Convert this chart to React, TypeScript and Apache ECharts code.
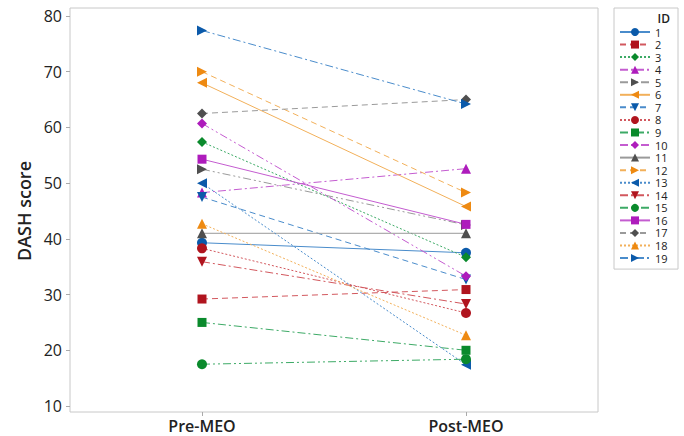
import React, { useEffect, useRef } from "react";
import * as echarts from "echarts";

const categories = ["Pre-MEO", "Post-MEO"];
const ids = ["1","2","3","4","5","6","7","8","9","10","11","12","13","14","15","16","17","18","19"];
const preValues = [39.3, 29.2, 57.4, 48.3, 52.5, 68.0, 47.5, 38.3, 25.0, 60.7, 41.0, 70.0, 50.0, 35.9, 17.5, 54.3, 62.5, 42.7, 77.4];
const postValues = [37.5, 30.9, 36.7, 52.6, 42.5, 45.8, 32.7, 26.7, 20.0, 33.3, 41.0, 48.3, 17.4, 28.3, 18.4, 42.6, 65.0, 22.7, 64.2];
const yTicks = [10, 80, 10]; // min, max, interval

const markerColors = ["#0B5AAA", "#B0141E", "#0A8A2C", "#AE1CBC", "#4F4F4F", "#EE8A12"];
const lineColors = ["#4A8CCB", "#D2585E", "#3DAA66", "#C45CD0", "#9A9A9A", "#F2B05A"];
const dashes: any[] = ["solid", [6, 4], [2, 2], [8, 3, 2, 3], [8, 3, 2, 3, 2, 3]];
const symbols = [
  "circle",
  "rect",
  "diamond",
  "triangle",
  "path://M0,0L10,5L0,10Z",
  "path://M10,0L0,5L10,10Z",
  "path://M0,0L10,0L5,10Z",
];

export default function App() {
  const ref = useRef<HTMLDivElement>(null);
  useEffect(() => {
    if (!ref.current) return;
    const chart = echarts.init(ref.current, null, { renderer: "svg" });
    const font = "'Open Sans', 'Noto Sans', sans-serif";
    const series = ids.map((id, i) => ({
      name: id,
      type: "line",
      data: [preValues[i], postValues[i]],
      symbol: symbols[i % 7],
      symbolSize: i % 7 === 1 ? 9 : 10,
      itemStyle: { color: markerColors[i % 6] },
      lineStyle: { color: lineColors[i % 6], width: 1, type: dashes[i % 5] },
      emphasis: { disabled: true },
    }));
    chart.setOption({
      animation: false,
      backgroundColor: "#fff",
      textStyle: { fontFamily: font },
      title: {
        text: "ID",
        right: 14,
        top: 12,
        padding: 0,
        textStyle: { fontSize: 12, fontWeight: 600, color: "#222", fontFamily: font },
      },
      legend: {
        orient: "vertical",
        right: 6,
        top: 8,
        width: 62,
        padding: [18, 7, 5, 5],
        itemWidth: 30,
        itemHeight: 10,
        itemGap: 0.56,
        borderColor: "#c8c8c8",
        borderWidth: 1,
        textStyle: { fontSize: 11, lineHeight: 12, color: "#222", width: 16, align: "right", fontFamily: font },
        data: ids,
      },
      grid: { left: 70, right: 86, top: 16, bottom: 30 },
      graphic: [
        {
          type: "rect",
          shape: { x: 70, y: 8, width: 528, height: 404 },
          style: { fill: "none", stroke: "#c8c8c8", lineWidth: 1 },
          silent: true,
          z: -1,
        },
      ],
      xAxis: {
        type: "category",
        data: categories,
        boundaryGap: true,
        offset: 6,
        axisLine: { show: false },
        axisTick: { show: true, alignWithLabel: true, length: 4, lineStyle: { color: "#aaa" } },
        axisLabel: { fontSize: 16, fontWeight: 600, color: "#222", margin: 6, fontFamily: font },
        splitLine: { show: false },
      },
      yAxis: {
        type: "value",
        min: yTicks[0],
        max: yTicks[1],
        interval: yTicks[2],
        name: "DASH score",
        nameLocation: "middle",
        nameGap: 34,
        nameRotate: 90,
        nameTextStyle: { fontSize: 18, fontWeight: 600, color: "#222", fontFamily: font },
        axisLine: { show: false },
        axisTick: { show: true, length: 4, lineStyle: { color: "#aaa" } },
        axisLabel: { fontSize: 16, color: "#222", margin: 8, fontFamily: font },
        splitLine: { show: false },
      },
      series,
    });
    return () => chart.dispose();
  }, []);
  return <div ref={ref} style={{ width: 684, height: 436, position: "absolute", left: 0, top: 0 }} />;
}
